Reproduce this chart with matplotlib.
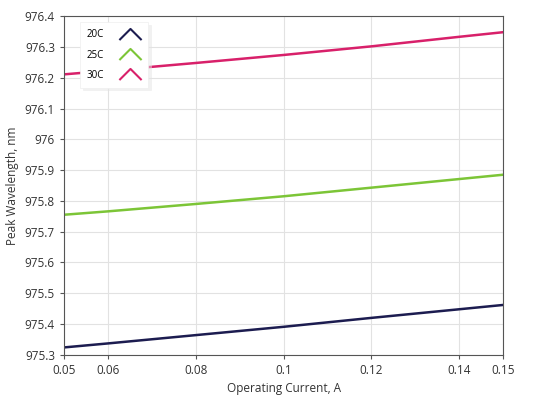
import numpy as np
import matplotlib.pyplot as plt
from matplotlib.path import Path
from matplotlib.lines import Line2D

plt.rcParams['font.family'] = ['Open Sans', 'DejaVu Sans']

# 读图得到的数据
current = [0.05, 0.06, 0.08, 0.10, 0.12, 0.14, 0.15]
wl_20c = [975.324, 975.337, 975.364, 975.391, 975.420, 975.448, 975.462]
wl_25c = [975.755, 975.766, 975.790, 975.815, 975.843, 975.871, 975.885]
wl_30c = [976.211, 976.223, 976.248, 976.274, 976.302, 976.333, 976.348]
labels = ["20C", "25C", "30C"]
colors = ["#1c1c50", "#7cc537", "#d8206a"]

xticks = [0.05, 0.06, 0.08, 0.1, 0.12, 0.14, 0.15]
yticks = [975.3, 975.4, 975.5, 975.6, 975.7, 975.8, 975.9, 976.0, 976.1, 976.2, 976.3, 976.4]

fig = plt.figure(figsize=(5.33, 4.15), dpi=100)
ax = fig.add_axes([0.120, 0.145, 0.824, 0.816])

for y, c in zip([wl_20c, wl_25c, wl_30c], colors):
    ax.plot(current, y, color=c, linewidth=1.8)

ax.set_xlim(0.05, 0.15)
ax.set_ylim(975.3, 976.4)
ax.set_xticks(xticks)
ax.set_xticklabels(["0.05", "0.06", "0.08", "0.1", "0.12", "0.14", "0.15"])
ax.set_yticks(yticks)
ax.set_yticklabels(["%g" % v for v in yticks])
ax.grid(True, color="#e2e2e2", linewidth=0.8)
ax.set_axisbelow(True)
for s in ax.spines.values():
    s.set_color("#555555")
ax.tick_params(labelsize=8.5, colors="#333333", length=3, color="#555555")
ax.set_xlabel("Operating Current, A", fontsize=8.5, color="#333333", labelpad=4)
ax.set_ylabel("Peak Wavelength, nm", fontsize=8.5, color="#333333", labelpad=4)

# 图例里的尖角符号
caret = Path([(-1, -0.5), (0, 0.5), (1, -0.5)], [Path.MOVETO, Path.LINETO, Path.LINETO])
handles = [Line2D([], [], linestyle="none", marker=caret, markersize=16,
                  markerfacecolor="none", markeredgecolor=c, markeredgewidth=1.5)
           for c in colors]
leg = ax.legend(handles, labels, loc="upper left", bbox_to_anchor=(0.03, 0.99),
                markerfirst=False, fontsize=7, frameon=True,
                shadow={'color': '#e4e4e4', 'alpha': 0.5, 'ox': 2, 'oy': -2},
                fancybox=False, edgecolor="#eeeeee", handletextpad=1.6,
                handlelength=2.2, labelspacing=0.95, borderpad=0.7, borderaxespad=0.3)
leg.get_frame().set_linewidth(0.5)

fig.savefig("out.png", dpi=100)
